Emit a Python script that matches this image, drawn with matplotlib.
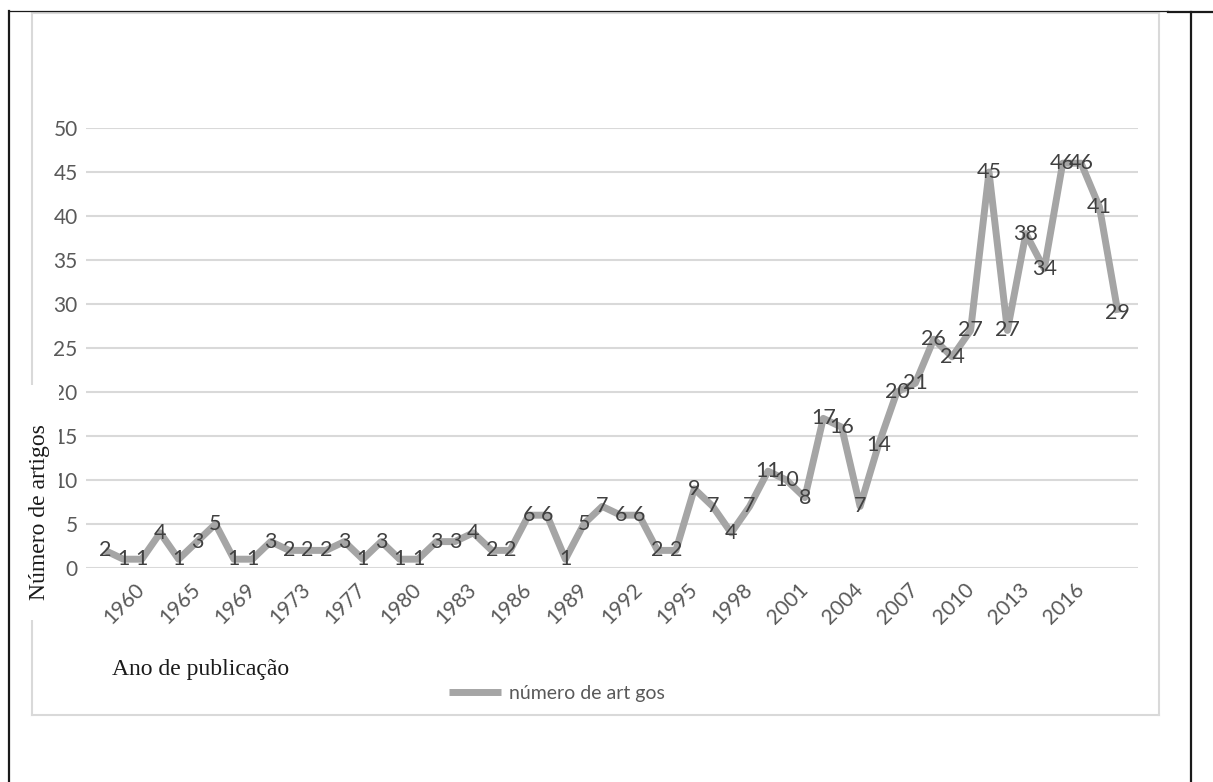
import matplotlib
matplotlib.use("Agg")
import matplotlib.pyplot as plt
from matplotlib.lines import Line2D
from matplotlib.patches import Rectangle

# categorias (anos) e número de artigos por ano
anos = ["1957", "1959", "1960", "1962", "1963", "1965", "1966", "1967", "1969",
        "1970", "1971", "1973", "1974", "1975", "1977", "1978", "1979"] + \
       [str(a) for a in range(1980, 2019)]
artigos = [2, 1, 1, 4, 1, 3, 5, 1, 1, 3, 2, 2, 2, 3, 1, 3, 1, 1, 3, 3,
           4, 2, 2, 6, 6, 1, 5, 7, 6, 6, 2, 2, 9, 7, 4, 7, 11, 10, 8, 17,
           16, 7, 14, 20, 21, 26, 24, 27, 45, 27, 38, 34, 46, 46, 41, 29]
y_ticks = [0, 5, 10, 15, 20, 25, 30, 35, 40, 45, 50]
legenda = "número de art gos"
titulo_y = "Número de artigos"
titulo_x = "Ano de publicação"

W, H = 1213, 782
plt.rcParams['font.family'] = ['Lato', 'DejaVu Sans']

fig = plt.figure(figsize=(W / 100, H / 100), dpi=100)


def fx(x):
    return x / W


def fy(y):
    return 1 - y / H


ax = fig.add_axes([fx(86), fy(568), fx(1138) - fx(86), fy(128) - fy(568)])

line_col = '#A5A5A5'
ax.plot(anos, artigos, color=line_col, lw=5, solid_joinstyle='round',
        solid_capstyle='butt', label=legenda, zorder=2)
for i, v in enumerate(artigos):
    ax.text(i, v, str(v), ha='center', va='center', fontsize=15.5,
            color='#404040', zorder=3)

ax.set_ylim(0, 50)
ax.set_xlim(-1.03, 56.09)
ax.set_yticks(y_ticks)
ax.set_xticks(range(2, len(anos), 3))
ax.set_xticklabels(anos[2::3], rotation=45, ha='right', va='center',
                   rotation_mode='anchor')
ax.tick_params(axis='both', length=0, labelsize=15, labelcolor='#595959')
ax.tick_params(axis='x', pad=13)
ax.tick_params(axis='y', pad=6)
ax.grid(axis='y', color='#D9D9D9', lw=1.5)
ax.set_axisbelow(True)
for s in ax.spines.values():
    s.set_visible(False)

ax.legend(loc='center', bbox_to_anchor=(fx(557), fy(693)),
          bbox_transform=fig.transFigure, frameon=False, fontsize=14,
          labelcolor='#595959', handlelength=2.7, handletextpad=0.4)

# moldura da área do gráfico (cinza)
gray = '#D9D9D9'
fig.add_artist(Line2D([fx(32), fx(1159)], [fy(13), fy(13)], color=gray, lw=1.5))
fig.add_artist(Line2D([fx(32), fx(1159)], [fy(715), fy(715)], color=gray, lw=1.5))
fig.add_artist(Line2D([fx(1159), fx(1159)], [fy(13), fy(715)], color=gray, lw=1.5))
fig.add_artist(Line2D([fx(32), fx(32)], [fy(13), fy(715)], color=gray, lw=1.5))

# bordas pretas da tabela
blk = '#1A1A1A'
fig.add_artist(Line2D([fx(9), fx(1168)], [fy(11), fy(11)], color=blk, lw=0.9))
fig.add_artist(Line2D([fx(1168), fx(1213)], [fy(12), fy(12)], color=blk, lw=1.6))
fig.add_artist(Line2D([fx(9), fx(9)], [fy(11), fy(782)], color=blk, lw=1.6))
fig.add_artist(Line2D([fx(1191), fx(1191)], [fy(12), fy(782)], color=blk, lw=1.6))

# caixa branca do título do eixo y
fig.add_artist(Rectangle((fx(20), fy(620)), fx(59) - fx(20), fy(385) - fy(620),
                         transform=fig.transFigure, facecolor='white',
                         edgecolor='none', zorder=5))
fig.text(fx(40), fy(512), titulo_y, rotation=90, ha='center', va='center',
         fontsize=17, family=['Liberation Serif'], color='#1A1A1A', zorder=6)
fig.text(fx(112), fy(675), titulo_x, ha='left', va='baseline',
         fontsize=17, family=['Liberation Serif'], color='#1A1A1A', zorder=6)

fig.savefig("out.png", dpi=100)
